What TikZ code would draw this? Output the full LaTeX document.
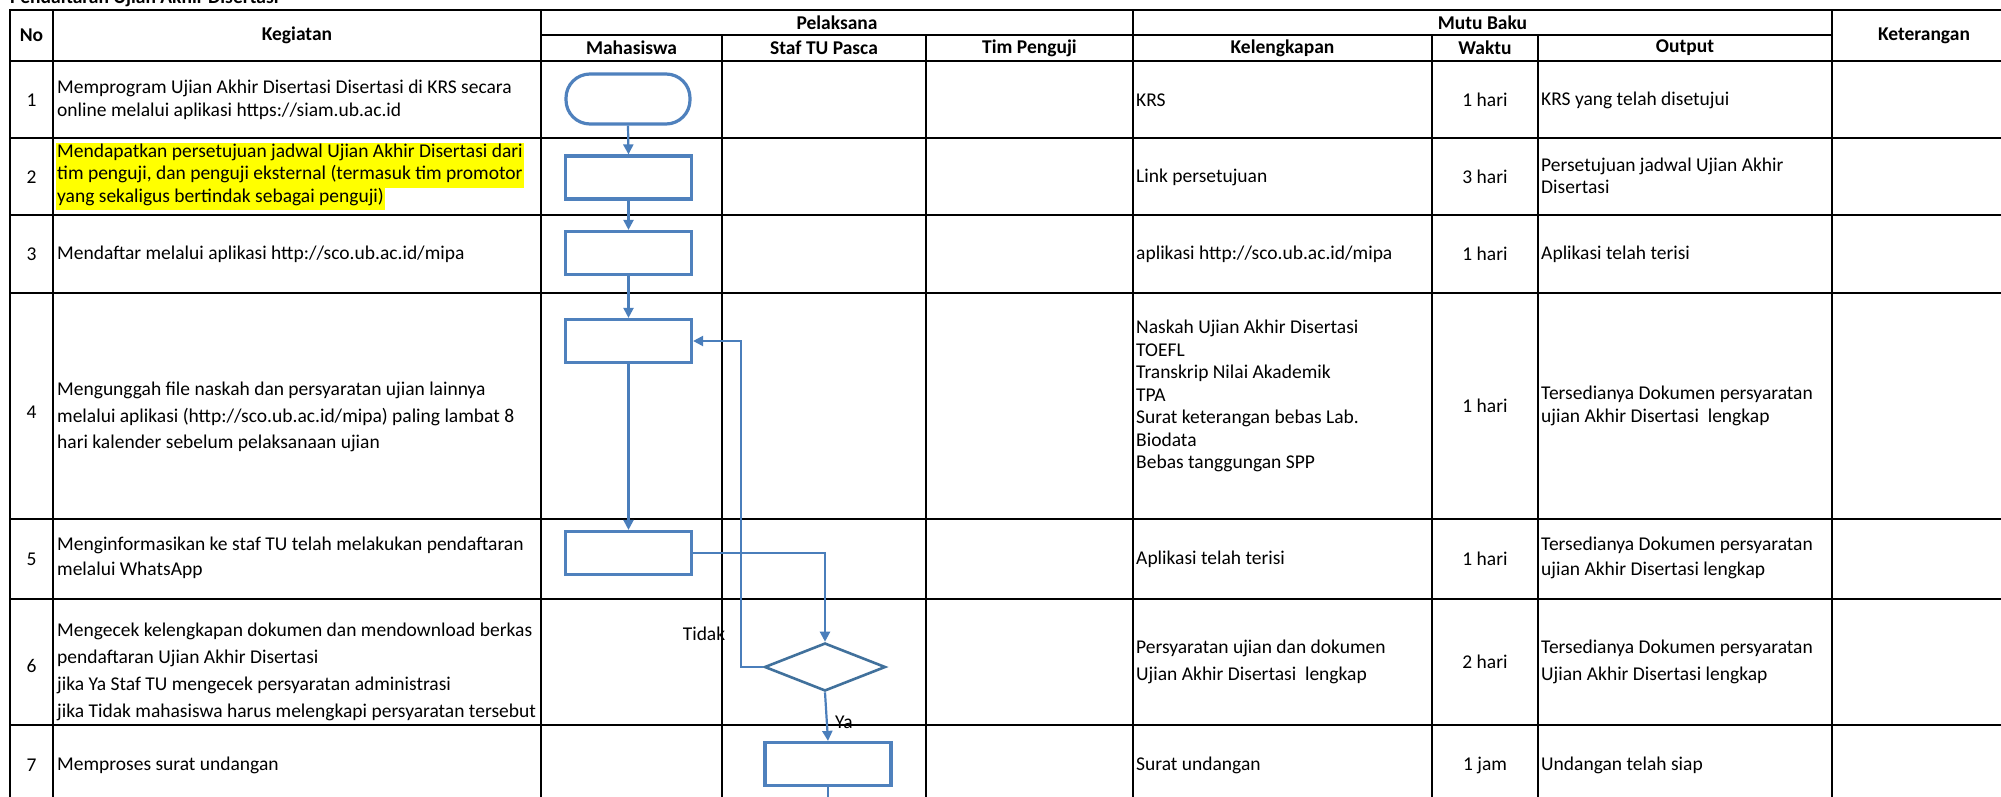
\documentclass[tikz,border=0pt]{standalone}
\usepackage{fontspec}
\setmainfont{Carlito}
\usetikzlibrary{arrows.meta,shapes.geometric}
\definecolor{boxblue}{HTML}{4F81BD}
\definecolor{lineblue}{HTML}{4A7EBB}
\definecolor{diablue}{HTML}{41719C}
\definecolor{hl}{HTML}{FFFF00}
\begin{document}
\begin{tikzpicture}[x=1pt,y=-1pt,
  gridline/.style={line width=2pt,black},
  body/.style={inner sep=0pt,font=\fontsize{19.5}{22.5}\selectfont,align=left},
  bodyls/.style={inner sep=0pt,font=\fontsize{19.5}{#1}\selectfont,align=left},
  head/.style={inner sep=0pt,font=\bfseries\fontsize{19.5}{22.5}\selectfont},
  hlline/.style={inner xsep=1pt,inner ysep=0pt,fill=hl,text height=14.5pt,text depth=8pt,font=\fontsize{19.5}{22.5}\selectfont,anchor=west},
  proc/.style={draw=boxblue,line width=3.2pt,fill=white,minimum width=126pt,minimum height=43pt,inner sep=0pt},
  term/.style={proc,minimum width=124pt,minimum height=50pt,rounded corners=24pt},
  decision/.style={diamond,draw=diablue,line width=2.6pt,fill=white,minimum width=121pt,minimum height=48pt,inner sep=0pt,aspect=2.5},
  flow/.style={draw=lineblue,line width=2.2pt,-{Triangle[length=10pt,width=10pt]}},
  flowplain/.style={draw=lineblue,line width=2.2pt},
  lbl/.style={inner sep=0pt,font=\fontsize{19.5}{22.5}\selectfont}
]
\useasboundingbox (0,0) rectangle (2001,797);
\clip (0,0) rectangle (2001,797);
\fill[white] (0,0) rectangle (2001,797);

% title (cut off at the top)
\node[head,anchor=base west] (title) at (10,4) {Pendaftaran Ujian Akhir Disertasi};

% grid
\draw[gridline] (10,10) -- (2010,10);
\draw[gridline] (541,35) -- (1832,35);
\foreach \yy in {61,138,215,293,519,599,725} {\draw[gridline] (10,\yy) -- (2010,\yy);}
\draw[line width=2.6pt] (10,9) -- (10,800);
\foreach \xx in {53,541,1133,1832} {\draw[gridline] (\xx,10) -- (\xx,800);}
\foreach \xx in {722,926,1432,1538} {\draw[gridline] (\xx,35) -- (\xx,800);}

% header
\node[head] (hNo) at (31.5,35.5) {No};
\node[head] (hKeg) at (297,35.5) {Kegiatan};
\node[head] (hPel) at (837,22.5) {Pelaksana};
\node[head] (hMut) at (1482.5,22.5) {Mutu Baku};
\node[head] (hKet) at (1924,35.5) {Keterangan};
\node[head] (hMhs) at (631.5,48) {Mahasiswa};
\node[head] (hStaf) at (824,48) {Staf TU Pasca};
\node[head] (hTim) at (1029.5,48) {Tim Penguji};
\node[head] (hKel) at (1282.5,48) {Kelengkapan};
\node[head] (hWak) at (1485,48) {Waktu};
\node[head] (hOut) at (1685,48) {Output};

% numbers
\node[body] (n1) at (31.5,100) {1};
\node[body] (n2) at (31.5,177) {2};
\node[body] (n3) at (31.5,254) {3};
\node[body] (n4) at (31.5,412) {4};
\node[body] (n5) at (31.5,559) {5};
\node[body] (n6) at (31.5,666) {6};
\node[body] (n7) at (31.5,765) {7};

% Kegiatan
\node[body,anchor=west] (k1) at (57,100) {Memprogram Ujian Akhir Disertasi Disertasi di KRS secara\\online melalui aplikasi https://siam.ub.ac.id};
\node[hlline] (k2a) at (56,154) {Mendapatkan persetujuan jadwal Ujian Akhir Disertasi dari};
\node[hlline] (k2b) at (56,176.5) {tim penguji, dan penguji eksternal (termasuk tim promotor};
\node[hlline] (k2c) at (56,199) {yang sekaligus bertindak sebagai penguji)};
\node[body,anchor=west] (k3) at (57,254) {Mendaftar melalui aplikasi http://sco.ub.ac.id/mipa};
\node[bodyls=26.8,anchor=west] (k4) at (57,417) {Mengunggah file naskah dan persyaratan ujian lainnya\\melalui aplikasi (http://sco.ub.ac.id/mipa) paling lambat 8\\hari kalender sebelum pelaksanaan ujian};
\node[bodyls=25.5,anchor=west] (k5) at (57,558) {Menginformasikan ke staf TU telah melakukan pendaftaran\\melalui WhatsApp};
\node[bodyls=26.8,anchor=west] (k6) at (57,672) {Mengecek kelengkapan dokumen dan mendownload berkas\\pendaftaran Ujian Akhir Disertasi\\jika Ya Staf TU mengecek persyaratan administrasi\\jika Tidak mahasiswa harus melengkapi persyaratan tersebut};
\node[body,anchor=west] (k7) at (57,765) {Memproses surat undangan};

% Kelengkapan
\node[body,anchor=west] (c1) at (1136,100) {KRS};
\node[body,anchor=west] (c2) at (1136,177) {Link persetujuan};
\node[body,anchor=west] (c3) at (1136,254) {aplikasi http://sco.ub.ac.id/mipa};
\node[body,anchor=north west] (c4) at (1136,320) {Naskah Ujian Akhir Disertasi\\TOEFL\\Transkrip Nilai Akademik\\TPA\\Surat keterangan bebas Lab.\\Biodata\\Bebas tanggungan SPP};
\node[body,anchor=west] (c5) at (1136,559) {Aplikasi telah terisi};
\node[bodyls=27,anchor=west] (c6) at (1136,662) {Persyaratan ujian dan dokumen\\Ujian Akhir Disertasi\ \ lengkap};
\node[body,anchor=west] (c7) at (1136,765) {Surat undangan};

% Waktu
\node[body] (w1) at (1485,100) {1 hari};
\node[body] (w2) at (1485,177) {3 hari};
\node[body] (w3) at (1485,254) {1 hari};
\node[body] (w4) at (1485,406) {1 hari};
\node[body] (w5) at (1485,559) {1 hari};
\node[body] (w6) at (1485,662) {2 hari};
\node[body] (w7) at (1485,765) {1 jam};

% Output
\node[body,anchor=west] (o1) at (1541,100) {KRS yang telah disetujui};
\node[body,anchor=west] (o2) at (1541,176) {Persetujuan jadwal Ujian Akhir\\Disertasi};
\node[body,anchor=west] (o3) at (1541,254) {Aplikasi telah terisi};
\node[bodyls=23,anchor=west] (o4) at (1541,406) {Tersedianya Dokumen persyaratan\\ujian Akhir Disertasi\ \ lengkap};
\node[bodyls=25.5,anchor=west] (o5) at (1541,558) {Tersedianya Dokumen persyaratan\\ujian Akhir Disertasi lengkap};
\node[bodyls=27,anchor=west] (o6) at (1541,662) {Tersedianya Dokumen persyaratan\\Ujian Akhir Disertasi lengkap};
\node[body,anchor=west] (o7) at (1541,765) {Undangan telah siap};

% flowchart
\node[term] (b1) at (628,99) {};
\node[proc] (b2) at (628.5,177.5) {};
\node[proc] (b3) at (628.5,253) {};
\node[proc] (b4) at (628.5,341) {};
\node[proc] (b5) at (628.5,553) {};
\node[decision] (d6) at (825,667) {};
\node[proc] (b7) at (828,764) {};
\coordinate (loopx) at (741,667);
\coordinate (endb) at (828,805);

\draw[flow] (b1.south) -- (b2.north);
\draw[flow] (b2.south) -- (b3.north);
\draw[flow] (b3.south) -- (b4.north);
\draw[flow] (b4.south) -- (b5.north);
\draw[flow] (b5.east) -| (d6.north);
\draw[flow] (d6.west) -- (loopx) |- (b4.east);
\draw[flow] (d6.south) -- (b7.north);
\draw[flowplain] (b7.south) -- (endb);

\node[lbl] (tidak) at (704,634) {Tidak};
\node[lbl] (ya) at (844,722) {Ya};
\end{tikzpicture}
\end{document}
